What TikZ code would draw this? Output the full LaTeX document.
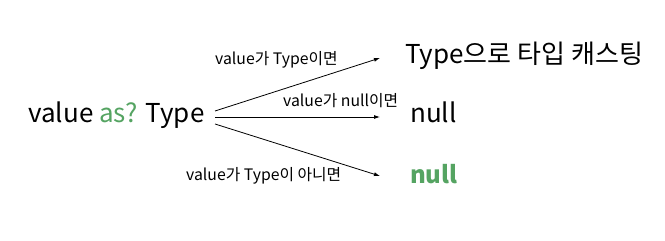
\documentclass[tikz,border=0pt]{standalone}
\usepackage{fontspec}
\setmainfont{Noto Sans CJK KR}
\usetikzlibrary{arrows.meta}
\definecolor{kgreen}{HTML}{55A462}
\tikzset{
  big/.style={inner sep=0pt, font=\fontsize{26}{30}\selectfont},
  small/.style={inner sep=0pt, font=\fontsize{15.8}{18}\selectfont},
  arr/.style={line width=0.8pt, -{Latex[length=6pt,width=4pt]}}
}
\begin{document}
\begin{tikzpicture}[x=1pt,y=1pt]
\useasboundingbox[fill=white] (0,0) rectangle (665,241);
% source expression
\node[big, anchor=base west] (src) at (28,118) {value \textcolor{kgreen}{as?} Type};
% outcomes
\node[big, anchor=base west] (cast) at (405,177) {Type으로 타입 캐스팅};
\node[big, anchor=base west] (nul) at (410,118) {null};
\node[big, anchor=base west, text=kgreen, font=\fontsize{24}{28}\selectfont\bfseries] (gnul) at (410,57) {null};
% branch conditions
\node[small, anchor=base west] (c1) at (215,176) {value가 Type이면};
\node[small, anchor=base west] (c2) at (283,134) {value가 null이면};
\node[small, anchor=base west] (c3) at (186,60) {value가 Type이 아니면};
% arrow ends
\coordinate (s1) at (215,130);
\coordinate (s2) at (215,124);
\coordinate (s3) at (215,117);
\coordinate (e1) at (380,183);
\coordinate (e2) at (380,124);
\coordinate (e3) at (380,65);
\draw[arr] (s1) -- (e1);
\draw[arr] (s2) -- (e2);
\draw[arr] (s3) -- (e3);
\end{tikzpicture}
\end{document}
